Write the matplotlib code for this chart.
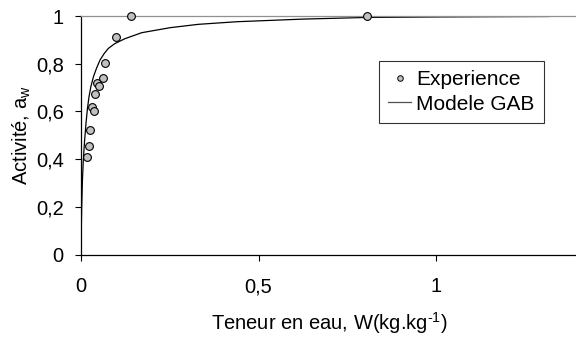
import matplotlib
matplotlib.use("Agg")
import matplotlib.pyplot as plt
from matplotlib.lines import Line2D

plt.rcParams.update({
    "font.family": ["Liberation Sans", "DejaVu Sans"],
    "font.size": 14.5,
    "mathtext.fontset": "custom",
    "mathtext.rm": "Liberation Sans",
    "mathtext.it": "Liberation Sans:italic",
    "mathtext.bf": "Liberation Sans:bold",
})

# Experimental points (water content W, activity aw)
exp_w = [0.018, 0.0235, 0.0244, 0.032, 0.0366, 0.0385, 0.045, 0.0507,
         0.061, 0.0676, 0.0986, 0.140, 0.805]
exp_aw = [0.408, 0.455, 0.524, 0.619, 0.602, 0.671, 0.717, 0.706,
          0.741, 0.805, 0.913, 1.0, 1.0]

# GAB model curve
gab_w = [0.0, 0.001, 0.002, 0.004, 0.0065, 0.010, 0.014, 0.018, 0.0225,
         0.028, 0.035, 0.044, 0.0535, 0.065, 0.077, 0.095, 0.124, 0.171,
         0.251, 0.33, 0.439, 0.625, 0.806, 1.0, 1.15, 1.32]
gab_aw = [0.0, 0.12, 0.2, 0.31, 0.395, 0.475, 0.549, 0.61, 0.661,
          0.705, 0.745, 0.782, 0.815, 0.842, 0.864, 0.884, 0.905, 0.930,
          0.951, 0.965, 0.976, 0.987, 0.994, 0.996, 0.997, 0.998]

fig = plt.figure(figsize=(5.76, 3.43), dpi=100)
ax = fig.add_axes([81 / 576, (343 - 254.5) / 343, 1.4 * 355 / 576, 238.5 / 343])

ax.plot(gab_w, gab_aw, color="black", lw=0.9, label="Modele GAB", zorder=2)
ax.plot(exp_w, exp_aw, "o", ms=5.6, mfc="#c0c0c0", mec="black", mew=0.8,
        clip_on=False, zorder=3, label="Experience")

ax.set_xlim(0, 1.4)
ax.set_ylim(0, 1)
ax.set_xticks([0, 0.5, 1])
ax.set_xticklabels(["0", "0,5", "1"])
ax.set_yticks([0, 0.2, 0.4, 0.6, 0.8, 1])
ax.set_yticklabels(["0", "0,2", "0,4", "0,6", "0,8", "1"])
ax.tick_params(axis="y", direction="out", length=4.5, width=0.8, pad=8)
ax.tick_params(axis="x", direction="out", length=4.5, width=0.8, pad=12)

ax.spines["right"].set_visible(False)
ax.spines["top"].set_color("#909090")
ax.spines["top"].set_linewidth(0.9)
ax.spines["left"].set_linewidth(0.9)
ax.spines["bottom"].set_linewidth(0.9)

ax.set_xlabel("Teneur en eau, W(kg.kg$^{\\text{-1}}$)", labelpad=10)
ax.set_ylabel("Activité, a$_\\mathrm{w}$", labelpad=2)

handles = [
    Line2D([], [], marker="o", ls="none", ms=4, mfc="#c0c0c0", mec="black", mew=0.7),
    Line2D([], [], color="#505050", lw=0.9),
]
leg = ax.legend(handles, ["Experience", "Modele GAB"], loc="upper left",
                bbox_to_anchor=((379 - 81) / (1.4 * 355), (254.5 - 61) / 238.5),
                frameon=True, fancybox=False, edgecolor="black", fontsize=15,
                handlelength=1.1, handletextpad=0.25, borderpad=0.45,
                labelspacing=0.25, borderaxespad=0)
leg.get_frame().set_linewidth(0.8)

fig.savefig("out.png", dpi=100)
